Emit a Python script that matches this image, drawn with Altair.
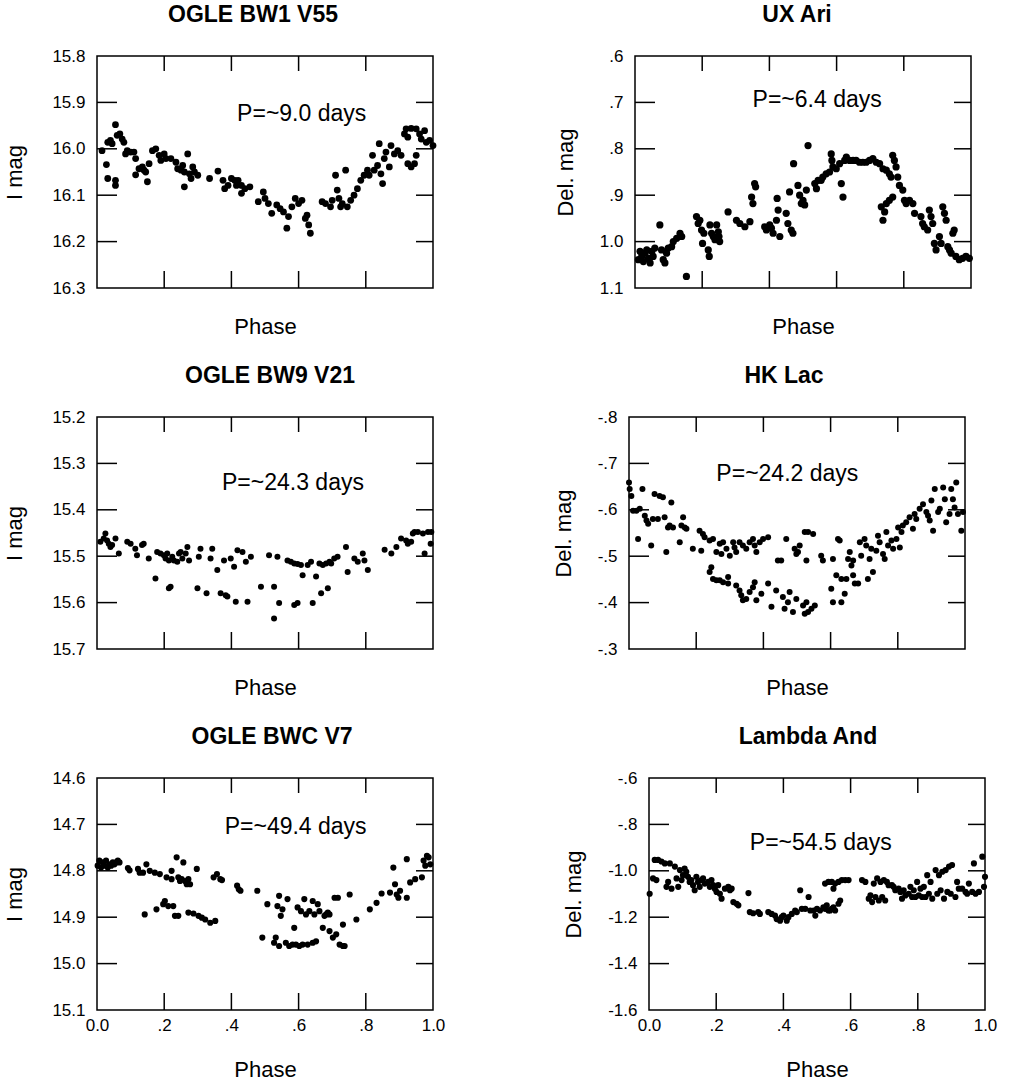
import altair as alt
import pandas as pd

FONT = "Liberation Sans"

# ---------------- data ----------------
bw1_phase = [0.015, 0.028, 0.032, 0.032, 0.040, 0.045, 0.055, 0.055, 0.055, 0.060, 0.068, 0.075, 0.080, 0.085, 0.090,
             0.100, 0.110, 0.115, 0.115, 0.125, 0.135, 0.140, 0.145, 0.150, 0.155, 0.165, 0.175, 0.185, 0.190, 0.200,
             0.205, 0.220, 0.235, 0.240, 0.250, 0.255, 0.260, 0.260, 0.270, 0.275, 0.280, 0.285, 0.290, 0.300, 0.335,
             0.360, 0.375, 0.380, 0.390, 0.400, 0.410, 0.415, 0.420, 0.430, 0.430, 0.440, 0.455, 0.480, 0.495, 0.500,
             0.510, 0.520, 0.535, 0.545, 0.555, 0.565, 0.570, 0.580, 0.590, 0.600, 0.610, 0.620, 0.625, 0.630, 0.635,
             0.670, 0.680, 0.695, 0.700, 0.710, 0.715, 0.720, 0.725, 0.730, 0.740, 0.745, 0.755, 0.765, 0.775, 0.785,
             0.795, 0.805, 0.810, 0.820, 0.825, 0.835, 0.840, 0.845, 0.850, 0.855, 0.860, 0.870, 0.875, 0.885, 0.895,
             0.905, 0.915, 0.920, 0.925, 0.925, 0.935, 0.945, 0.950, 0.935, 0.950, 0.960, 0.965, 0.975, 0.980, 0.990,
             1.000]
bw1_mag = [16.004, 16.034, 16.064, 15.986, 15.982, 15.989, 15.948, 16.068, 16.079, 15.971, 15.968, 15.979, 15.986, 16.011, 16.004,
           16.007, 16.007, 16.021, 16.056, 16.043, 16.039, 16.046, 16.050, 16.071, 16.032, 16.004, 16.000, 16.014, 16.025, 16.011,
           16.021, 16.021, 16.029, 16.043, 16.046, 16.036, 16.050, 16.082, 16.011, 16.054, 16.064, 16.039, 16.050, 16.057, 16.064,
           16.048, 16.068, 16.086, 16.079, 16.064, 16.068, 16.079, 16.068, 16.096, 16.079, 16.086, 16.082, 16.114, 16.093, 16.107,
           16.118, 16.139, 16.121, 16.129, 16.136, 16.171, 16.146, 16.125, 16.107, 16.118, 16.111, 16.150, 16.143, 16.164, 16.182,
           16.114, 16.118, 16.125, 16.111, 16.057, 16.089, 16.107, 16.125, 16.118, 16.046, 16.125, 16.111, 16.100, 16.086, 16.068,
           16.057, 16.046, 16.057, 16.014, 16.046, 16.036, 15.989, 16.054, 16.075, 16.021, 16.007, 16.039, 15.993, 16.011, 16.004,
           16.014, 15.968, 15.957, 15.975, 16.032, 16.039, 16.032, 16.014, 15.956, 15.957, 15.968, 15.979, 15.961, 15.986, 15.982,
           15.993]

uxari_phase = [0.010, 0.015, 0.020, 0.025, 0.030, 0.035, 0.040, 0.045, 0.050, 0.054, 0.059, 0.074, 0.079, 0.084, 0.089,
               0.094, 0.099, 0.109, 0.114, 0.124, 0.134, 0.139, 0.153, 0.183, 0.188, 0.193, 0.198, 0.201, 0.205, 0.218,
               0.221, 0.223, 0.228, 0.233, 0.238, 0.243, 0.248, 0.250, 0.252, 0.277, 0.302, 0.312, 0.327, 0.342, 0.347,
               0.351, 0.356, 0.359, 0.386, 0.391, 0.401, 0.406, 0.411, 0.421, 0.423, 0.426, 0.431, 0.450, 0.455, 0.460,
               0.465, 0.470, 0.472, 0.485, 0.490, 0.495, 0.500, 0.505, 0.510, 0.515, 0.535, 0.540, 0.545, 0.554, 0.559,
               0.569, 0.579, 0.584, 0.586, 0.589, 0.599, 0.609, 0.614, 0.619, 0.624, 0.629, 0.639, 0.649, 0.658, 0.668,
               0.678, 0.688, 0.698, 0.708, 0.718, 0.728, 0.738, 0.733, 0.738, 0.743, 0.748, 0.757, 0.767, 0.748, 0.757,
               0.762, 0.767, 0.772, 0.777, 0.782, 0.787, 0.797, 0.802, 0.807, 0.817, 0.827, 0.832, 0.851, 0.856, 0.861,
               0.871, 0.876, 0.881, 0.886, 0.891, 0.896, 0.906, 0.911, 0.916, 0.921, 0.926, 0.931, 0.936, 0.941, 0.946,
               0.950, 0.955, 0.965, 0.975, 0.985, 0.995]
uxari_mag = [1.039, 1.021, 1.032, 1.043, 1.025, 1.018, 1.036, 1.046, 1.021, 1.032, 1.014, 0.964, 1.018, 1.039, 1.046,
             1.025, 1.014, 1.011, 1.000, 0.993, 0.982, 0.989, 1.075, 0.946, 0.961, 0.954, 0.975, 1.004, 0.982, 1.018,
             1.032, 0.964, 0.982, 0.989, 0.996, 0.964, 0.979, 0.989, 1.000, 0.936, 0.954, 0.961, 0.968, 0.957, 0.904,
             0.918, 0.875, 0.882, 0.968, 0.975, 0.964, 0.971, 0.982, 0.954, 0.907, 0.932, 0.989, 0.939, 0.961, 0.893,
             0.975, 0.982, 0.832, 0.879, 0.900, 0.918, 0.911, 0.921, 0.889, 0.793, 0.875, 0.886, 0.868, 0.868, 0.861,
             0.854, 0.850, 0.811, 0.825, 0.839, 0.843, 0.832, 0.875, 0.904, 0.825, 0.818, 0.825, 0.825, 0.825, 0.829,
             0.829, 0.829, 0.825, 0.821, 0.829, 0.832, 0.843, 0.925, 0.954, 0.936, 0.918, 0.911, 0.904, 0.846, 0.854,
             0.861, 0.814, 0.825, 0.839, 0.861, 0.879, 0.889, 0.911, 0.918, 0.911, 0.918, 0.939, 0.946, 0.961, 0.968,
             0.975, 0.932, 0.946, 0.961, 1.004, 1.018, 0.989, 1.004, 0.925, 0.939, 0.954, 1.011, 1.018, 1.025, 0.982,
             0.975, 1.032, 1.039, 1.036, 1.032, 1.036]

bw9_phase = [0.010, 0.020, 0.025, 0.030, 0.035, 0.040, 0.045, 0.055, 0.065, 0.090, 0.100, 0.114, 0.119, 0.134, 0.139,
             0.154, 0.174, 0.179, 0.189, 0.199, 0.204, 0.209, 0.214, 0.214, 0.219, 0.224, 0.229, 0.239, 0.244, 0.249,
             0.254, 0.264, 0.269, 0.274, 0.299, 0.303, 0.308, 0.326, 0.338, 0.343, 0.358, 0.368, 0.383, 0.388, 0.378,
             0.398, 0.408, 0.413, 0.418, 0.433, 0.443, 0.448, 0.458, 0.488, 0.512, 0.527, 0.537, 0.542, 0.527, 0.567,
             0.577, 0.587, 0.597, 0.607, 0.587, 0.597, 0.612, 0.627, 0.637, 0.642, 0.652, 0.662, 0.667, 0.672, 0.682,
             0.687, 0.692, 0.697, 0.706, 0.716, 0.741, 0.746, 0.766, 0.776, 0.791, 0.796, 0.806, 0.856, 0.876, 0.891,
             0.905, 0.920, 0.925, 0.935, 0.940, 0.945, 0.955, 0.970, 0.975, 0.985, 0.993, 0.995]
bw9_mag = [15.469, 15.462, 15.451, 15.466, 15.473, 15.480, 15.476, 15.462, 15.494, 15.469, 15.473, 15.484, 15.498, 15.476, 15.473,
           15.505, 15.548, 15.491, 15.494, 15.498, 15.505, 15.494, 15.509, 15.569, 15.566, 15.501, 15.509, 15.512, 15.494, 15.491,
           15.505, 15.494, 15.480, 15.509, 15.569, 15.501, 15.484, 15.580, 15.505, 15.484, 15.530, 15.580, 15.584, 15.587, 15.509,
           15.505, 15.523, 15.598, 15.487, 15.491, 15.512, 15.598, 15.501, 15.566, 15.498, 15.566, 15.501, 15.601, 15.634, 15.509,
           15.512, 15.516, 15.517, 15.519, 15.605, 15.601, 15.541, 15.519, 15.512, 15.601, 15.544, 15.516, 15.580, 15.519, 15.516,
           15.569, 15.512, 15.516, 15.505, 15.501, 15.480, 15.534, 15.505, 15.512, 15.494, 15.509, 15.530, 15.486, 15.494, 15.480,
           15.462, 15.466, 15.473, 15.469, 15.451, 15.448, 15.448, 15.451, 15.494, 15.448, 15.473, 15.448]

hklac_phase = [0.000, 0.002, 0.007, 0.012, 0.022, 0.027, 0.032, 0.040, 0.047, 0.052, 0.057, 0.066, 0.071, 0.076, 0.086,
               0.091, 0.101, 0.106, 0.111, 0.116, 0.121, 0.126, 0.131, 0.151, 0.156, 0.161, 0.166, 0.171, 0.190, 0.210,
               0.215, 0.220, 0.225, 0.240, 0.250, 0.240, 0.245, 0.250, 0.260, 0.270, 0.280, 0.295, 0.295, 0.260, 0.270,
               0.275, 0.280, 0.290, 0.300, 0.310, 0.314, 0.319, 0.329, 0.339, 0.349, 0.359, 0.369, 0.374, 0.379, 0.389,
               0.399, 0.414, 0.319, 0.329, 0.334, 0.339, 0.349, 0.359, 0.369, 0.374, 0.379, 0.394, 0.414, 0.424, 0.438,
               0.443, 0.453, 0.458, 0.463, 0.468, 0.473, 0.478, 0.488, 0.498, 0.503, 0.508, 0.518, 0.523, 0.528, 0.533,
               0.543, 0.553, 0.493, 0.498, 0.523, 0.533, 0.548, 0.528, 0.572, 0.577, 0.602, 0.607, 0.607, 0.617, 0.622,
               0.627, 0.632, 0.632, 0.642, 0.647, 0.652, 0.657, 0.662, 0.667, 0.667, 0.672, 0.682, 0.687, 0.691, 0.701,
               0.706, 0.711, 0.716, 0.721, 0.726, 0.736, 0.741, 0.746, 0.756, 0.761, 0.766, 0.771, 0.781, 0.786, 0.796,
               0.801, 0.806, 0.811, 0.815, 0.825, 0.835, 0.845, 0.850, 0.855, 0.865, 0.875, 0.885, 0.890, 0.895, 0.900,
               0.905, 0.910, 0.920, 0.925, 0.935, 0.940, 0.944, 0.954, 0.959, 0.964, 0.969, 0.974, 0.979, 0.994, 0.989]
hklac_mag = [-0.659, -0.645, -0.630, -0.598, -0.598, -0.537, -0.602, -0.645, -0.587, -0.577, -0.570, -0.523, -0.580, -0.634, -0.580,
             -0.630, -0.627, -0.584, -0.509, -0.562, -0.566, -0.616, -0.562, -0.530, -0.566, -0.584, -0.562, -0.559, -0.516, -0.555,
             -0.512, -0.548, -0.541, -0.534, -0.537, -0.466, -0.476, -0.451, -0.448, -0.448, -0.444, -0.441, -0.455, -0.509, -0.527,
             -0.505, -0.530, -0.516, -0.501, -0.530, -0.519, -0.509, -0.530, -0.523, -0.516, -0.530, -0.537, -0.523, -0.509, -0.530,
             -0.537, -0.541, -0.437, -0.426, -0.416, -0.405, -0.408, -0.423, -0.433, -0.444, -0.405, -0.419, -0.441, -0.391, -0.426,
             -0.491, -0.491, -0.412, -0.387, -0.537, -0.401, -0.423, -0.380, -0.408, -0.509, -0.523, -0.394, -0.376, -0.401, -0.380,
             -0.387, -0.394, -0.516, -0.505, -0.552, -0.552, -0.548, -0.491, -0.501, -0.491, -0.430, -0.494, -0.401, -0.459, -0.537,
             -0.534, -0.451, -0.401, -0.419, -0.451, -0.494, -0.509, -0.480, -0.459, -0.491, -0.441, -0.441, -0.530, -0.501, -0.537,
             -0.523, -0.451, -0.494, -0.516, -0.466, -0.512, -0.544, -0.530, -0.505, -0.494, -0.552, -0.523, -0.534, -0.516, -0.537,
             -0.562, -0.519, -0.552, -0.566, -0.573, -0.584, -0.559, -0.591, -0.580, -0.602, -0.612, -0.595, -0.587, -0.577, -0.620,
             -0.555, -0.645, -0.595, -0.602, -0.648, -0.623, -0.573, -0.591, -0.645, -0.623, -0.605, -0.659, -0.591, -0.595, -0.555]

bwc_phase = [0.002, 0.007, 0.012, 0.017, 0.022, 0.027, 0.032, 0.037, 0.042, 0.047, 0.052, 0.057, 0.062, 0.067, 0.092,
             0.097, 0.122, 0.127, 0.137, 0.142, 0.147, 0.157, 0.172, 0.177, 0.187, 0.197, 0.202, 0.207, 0.212, 0.222,
             0.222, 0.227, 0.232, 0.242, 0.242, 0.237, 0.247, 0.252, 0.257, 0.262, 0.267, 0.272, 0.277, 0.272, 0.287,
             0.297, 0.302, 0.312, 0.322, 0.337, 0.347, 0.352, 0.357, 0.367, 0.372, 0.417, 0.422, 0.427, 0.477, 0.492,
             0.507, 0.527, 0.532, 0.537, 0.542, 0.542, 0.547, 0.552, 0.562, 0.567, 0.572, 0.582, 0.587, 0.592, 0.597,
             0.602, 0.607, 0.612, 0.617, 0.622, 0.627, 0.632, 0.642, 0.642, 0.647, 0.652, 0.657, 0.662, 0.672, 0.677,
             0.682, 0.687, 0.692, 0.692, 0.702, 0.707, 0.712, 0.717, 0.722, 0.732, 0.732, 0.737, 0.752, 0.772, 0.812,
             0.832, 0.847, 0.872, 0.882, 0.887, 0.892, 0.897, 0.902, 0.922, 0.922, 0.932, 0.947, 0.967, 0.972, 0.977,
             0.982, 0.987, 0.992]
bwc_mag = [14.789, 14.778, 14.793, 14.782, 14.789, 14.778, 14.793, 14.786, 14.789, 14.782, 14.786, 14.782, 14.778, 14.782, 14.794,
           14.799, 14.796, 14.804, 14.804, 14.894, 14.786, 14.800, 14.804, 14.883, 14.807, 14.872, 14.865, 14.814, 14.876, 14.800,
           14.818, 14.876, 14.897, 14.897, 14.814, 14.771, 14.822, 14.818, 14.782, 14.822, 14.829, 14.818, 14.829, 14.890, 14.892,
           14.796, 14.897, 14.901, 14.905, 14.912, 14.814, 14.908, 14.807, 14.818, 14.820, 14.832, 14.840, 14.843, 14.843, 14.944,
           14.872, 14.955, 14.944, 14.876, 14.962, 14.854, 14.897, 14.883, 14.955, 14.861, 14.962, 14.959, 14.923, 14.959, 14.879,
           14.962, 14.887, 14.959, 14.861, 14.894, 14.959, 14.887, 14.955, 14.865, 14.894, 14.952, 14.872, 14.887, 14.923, 14.897,
           14.894, 14.890, 14.894, 14.930, 14.944, 14.858, 14.937, 14.858, 14.959, 14.916, 14.962, 14.962, 14.851, 14.905, 14.883,
           14.869, 14.849, 14.847, 14.793, 14.829, 14.851, 14.858, 14.843, 14.775, 14.858, 14.825, 14.818, 14.814, 14.778, 14.789,
           14.768, 14.771, 14.786]

lamand_phase = [0.002, 0.012, 0.022, 0.017, 0.027, 0.037, 0.047, 0.052, 0.057, 0.062, 0.067, 0.077, 0.082, 0.087, 0.092,
                0.097, 0.101, 0.106, 0.111, 0.116, 0.121, 0.126, 0.131, 0.136, 0.141, 0.146, 0.151, 0.156, 0.161, 0.166,
                0.176, 0.181, 0.186, 0.191, 0.196, 0.201, 0.206, 0.211, 0.216, 0.226, 0.236, 0.241, 0.246, 0.251, 0.261,
                0.266, 0.296, 0.300, 0.310, 0.325, 0.330, 0.355, 0.365, 0.375, 0.380, 0.390, 0.395, 0.400, 0.410, 0.415,
                0.425, 0.435, 0.440, 0.450, 0.455, 0.465, 0.475, 0.480, 0.490, 0.495, 0.500, 0.509, 0.519, 0.524, 0.529,
                0.534, 0.539, 0.544, 0.549, 0.554, 0.564, 0.569, 0.524, 0.534, 0.544, 0.549, 0.554, 0.564, 0.574, 0.584,
                0.594, 0.634, 0.644, 0.654, 0.659, 0.664, 0.669, 0.674, 0.679, 0.684, 0.689, 0.694, 0.699, 0.703, 0.708,
                0.713, 0.723, 0.728, 0.733, 0.743, 0.748, 0.753, 0.758, 0.763, 0.773, 0.778, 0.783, 0.788, 0.793, 0.798,
                0.803, 0.808, 0.813, 0.818, 0.823, 0.828, 0.833, 0.838, 0.843, 0.853, 0.858, 0.863, 0.868, 0.873, 0.878,
                0.883, 0.888, 0.893, 0.898, 0.902, 0.912, 0.917, 0.922, 0.932, 0.942, 0.947, 0.952, 0.962, 0.967, 0.972,
                0.982, 0.992, 0.997, 1.000]
lamand_mag = [-1.099, -1.033, -1.040, -0.953, -0.953, -0.960, -0.968, -1.069, -1.048, -0.968, -1.077, -0.982, -1.033, -1.069, -0.997,
              -1.040, -1.019, -0.990, -1.004, -1.026, -1.048, -1.040, -1.062, -1.084, -1.026, -1.048, -1.069, -1.040, -1.033, -1.055,
              -1.048, -1.069, -1.040, -1.062, -1.077, -1.091, -1.062, -1.099, -1.120, -1.077, -1.069, -1.084, -1.077, -1.135, -1.142,
              -1.149, -1.096, -1.178, -1.183, -1.178, -1.186, -1.178, -1.186, -1.193, -1.208, -1.215, -1.200, -1.193, -1.215, -1.200,
              -1.186, -1.171, -1.178, -1.084, -1.164, -1.164, -1.113, -1.171, -1.171, -1.193, -1.164, -1.171, -1.157, -1.164, -1.149,
              -1.171, -1.171, -1.164, -1.157, -1.171, -1.142, -1.128, -1.055, -1.048, -1.048, -1.077, -1.055, -1.048, -1.040, -1.040,
              -1.040, -1.040, -1.048, -1.120, -1.106, -1.135, -1.055, -1.113, -1.033, -1.128, -1.048, -1.113, -1.040, -1.128, -1.048,
              -1.062, -1.062, -1.069, -1.084, -1.077, -1.091, -1.120, -1.084, -1.106, -1.099, -1.069, -1.113, -1.084, -1.113, -1.048,
              -1.106, -1.077, -1.113, -1.069, -1.113, -1.019, -1.099, -1.048, -1.120, -0.997, -1.099, -1.019, -1.084, -1.004, -1.120,
              -0.997, -1.091, -0.982, -1.099, -0.975, -1.113, -1.048, -1.077, -1.077, -1.091, -1.099, -1.055, -1.091, -0.968, -1.099,
              -1.091, -0.939, -1.069, -1.026]

X_TICKS_INNER = [0.2, 0.4, 0.6, 0.8]
X_TICKS_LABELLED = [0.0, 0.2, 0.4, 0.6, 0.8, 1.0]

panels = [
    dict(title="OGLE BW1 V55", phase=bw1_phase, mag=bw1_mag, domain=[15.8, 16.3], reverse=True,
         yticks=[15.8, 15.9, 16.0, 16.1, 16.2, 16.3], ytitle="I mag", period="P=~9.0 days",
         ann_x=0.417, ann_y=15.924, size=46, tdx=-12),
    dict(title="UX Ari", phase=uxari_phase, mag=uxari_mag, domain=[0.6, 1.1], reverse=True,
         yticks=[0.6, 0.7, 0.8, 0.9, 1.0, 1.1], ytitle="Del. mag", period="P=~6.4 days",
         ann_x=0.35, ann_y=0.694, size=52, tdx=-6),
    dict(title="OGLE BW9 V21", phase=bw9_phase, mag=bw9_mag, domain=[15.2, 15.7], reverse=True,
         yticks=[15.2, 15.3, 15.4, 15.5, 15.6, 15.7], ytitle="I mag", period="P=~24.3 days",
         ann_x=0.372, ann_y=15.342, size=36, tdx=5),
    dict(title="HK Lac", phase=hklac_phase, mag=hklac_mag, domain=[-0.8, -0.3], reverse=True,
         yticks=[-0.8, -0.7, -0.6, -0.5, -0.4, -0.3], ytitle="Del. mag", period="P=~24.2 days",
         ann_x=0.26, ann_y=-0.678, size=36, tdx=-13),
    dict(title="OGLE BWC V7", phase=bwc_phase, mag=bwc_mag, domain=[14.6, 15.1], reverse=True,
         yticks=[14.6, 14.7, 14.8, 14.9, 15.0, 15.1], ytitle="I mag", period="P=~49.4 days",
         ann_x=0.38, ann_y=14.705, size=38, tdx=7),
    dict(title="Lambda And", phase=lamand_phase, mag=lamand_mag, domain=[-1.6, -0.6], reverse=False,
         yticks=[-0.6, -0.8, -1.0, -1.2, -1.4, -1.6], ytitle="Del. mag", period="P=~54.5 days",
         ann_x=0.30, ann_y=-0.88, size=38, tdx=-9),
]

Y_LABEL = "replace(replace(format(datum.value, '.1f'), '0.', '.'), '\u2212', '-')"
X_LABEL = "datum.value == 0 ? '0.0' : replace(format(datum.value, '.1f'), '0.', '.')"

W, H = 336, 232


def make_panel(p, bottom_row, left_col):
    df = pd.DataFrame({"phase": p["phase"], "mag": p["mag"]})
    xs = alt.Scale(domain=[0, 1], nice=False, zero=False)
    ys = alt.Scale(domain=p["domain"], reverse=p["reverse"], nice=False, zero=False)

    xaxis = alt.Axis(orient="bottom", values=X_TICKS_LABELLED, ticks=False, tickSize=0,
                     labels=bottom_row, labelExpr=X_LABEL, labelPadding=7, labelFlush=False,
                     title="Phase", titlePadding=26 if bottom_row else 28, domain=False, grid=False)
    yaxis = alt.Axis(orient="left", values=p["yticks"], ticks=False, tickSize=0,
                     labelExpr=Y_LABEL, labelPadding=12, title=p["ytitle"],
                     titlePadding=25 if left_col else 22, domain=False, grid=False)

    pts = alt.Chart(df).mark_circle(size=p["size"], color="black", opacity=1).encode(
        x=alt.X("phase:Q", scale=xs, axis=xaxis),
        y=alt.Y("mag:Q", scale=ys, axis=yaxis),
    )

    # inward tick marks on all four sides, positioned by the scales
    yt = pd.DataFrame({"v": p["yticks"][1:-1]})
    xt = pd.DataFrame({"v": X_TICKS_INNER})
    rule = dict(color="black", strokeWidth=1.5)
    left_t = alt.Chart(yt).mark_rule(**rule).encode(
        y=alt.Y("v:Q", scale=ys, axis=None), x=alt.value(0), x2=alt.value(20))
    right_t = alt.Chart(yt).mark_rule(**rule).encode(
        y=alt.Y("v:Q", scale=ys, axis=None), x=alt.value(W - 17), x2=alt.value(W))
    top_t = alt.Chart(xt).mark_rule(**rule).encode(
        x=alt.X("v:Q", scale=xs, axis=None), y=alt.value(0), y2=alt.value(15))
    bot_t = alt.Chart(xt).mark_rule(**rule).encode(
        x=alt.X("v:Q", scale=xs, axis=None), y=alt.value(H - 17), y2=alt.value(H))

    ann = pd.DataFrame({"phase": [p["ann_x"]], "mag": [p["ann_y"]], "label": [p["period"]]})
    txt = alt.Chart(ann).mark_text(align="left", baseline="middle", font=FONT, fontSize=23,
                                   color="black").encode(
        x=alt.X("phase:Q", scale=xs, axis=None),
        y=alt.Y("mag:Q", scale=ys, axis=None),
        text="label:N",
    )

    return alt.layer(pts, left_t, right_t, top_t, bot_t, txt).resolve_axis(
        x="independent", y="independent"
    ).properties(
        width=W, height=H,
        title=alt.TitleParams(p["title"], font=FONT, fontSize=23, fontWeight="bold",
                              offset=20, dx=p["tdx"]),
    )


rows = []
for r in range(3):
    left = make_panel(panels[2 * r], r == 2, True)
    right = make_panel(panels[2 * r + 1], r == 2, False)
    rows.append(alt.hconcat(left, right, spacing=115))

chart = alt.vconcat(*rows, spacing=26).properties(
    padding={"left": 3, "top": 3, "right": 5, "bottom": 3},
    background="white",
).configure_view(
    stroke="black", strokeWidth=1.5
).configure_axis(
    labelFont=FONT, labelFontSize=17, labelColor="black",
    titleFont=FONT, titleFontSize=22, titleFontWeight="normal", titleColor="black",
)

chart.save("out.html", embed_options={"renderer": "svg", "actions": False})
